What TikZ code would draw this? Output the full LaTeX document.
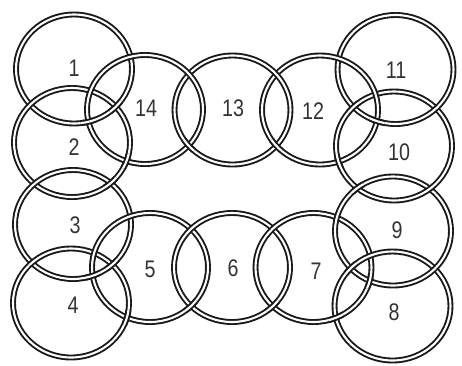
\documentclass[tikz,border=0pt]{standalone}
\usepackage{fontspec}
\setmainfont{Liberation Sans}
\newfontfamily\lab[FakeStretch=0.82]{Liberation Sans}
\usetikzlibrary{intersections}
\begin{document}
\begin{tikzpicture}[x=1pt,y=-1pt,
  ringline/.style={draw=black!90, line width=1.9pt, double=white, double distance=2.1pt},
  num/.style={font=\lab\fontsize{24}{24}\selectfont, inner sep=0pt, text=black!80}]
\useasboundingbox[fill=white] (0,0) rectangle (462,365);
% ring centres
\coordinate (c1) at (74,69);
\coordinate (c2) at (72,142.5);
\coordinate (c3) at (73,224.5);
\coordinate (c4) at (71,303);
\coordinate (c5) at (150,267.5);
\coordinate (c6) at (232,267.5);
\coordinate (c7) at (313.5,267.5);
\coordinate (c8) at (392.5,306);
\coordinate (c9) at (393,231);
\coordinate (c10) at (394,146);
\coordinate (c11) at (395.5,69.5);
\coordinate (c12) at (320,110);
\coordinate (c13) at (232.5,110);
\coordinate (c14) at (145,109.5);
\path[name path=r1] (c1) ellipse [x radius=58, y radius=54.5];
\path[name path=r2] (c2) ellipse [x radius=58, y radius=54.5];
\path[name path=r3] (c3) ellipse [x radius=58, y radius=54.5];
\path[name path=r4] (c4) ellipse [x radius=58, y radius=54.5];
\path[name path=r5] (c5) ellipse [x radius=58, y radius=54.5];
\path[name path=r6] (c6) ellipse [x radius=58, y radius=54.5];
\path[name path=r7] (c7) ellipse [x radius=58, y radius=54.5];
\path[name path=r8] (c8) ellipse [x radius=58, y radius=54.5];
\path[name path=r9] (c9) ellipse [x radius=58, y radius=54.5];
\path[name path=r10] (c10) ellipse [x radius=58, y radius=54.5];
\path[name path=r11] (c11) ellipse [x radius=58, y radius=54.5];
\path[name path=r12] (c12) ellipse [x radius=58, y radius=54.5];
\path[name path=r13] (c13) ellipse [x radius=58, y radius=54.5];
\path[name path=r14] (c14) ellipse [x radius=58, y radius=54.5];
% crossings
\path[name intersections={of=r1 and r2, name=xa}];
\path[name intersections={of=r2 and r3, name=xb}];
\path[name intersections={of=r3 and r4, name=xc}];
\path[name intersections={of=r4 and r5, name=xd}];
\path[name intersections={of=r3 and r5, name=xe}];
\path[name intersections={of=r5 and r6, name=xf}];
\path[name intersections={of=r6 and r7, name=xg}];
\path[name intersections={of=r7 and r8, name=xh}];
\path[name intersections={of=r7 and r9, name=xi}];
\path[name intersections={of=r8 and r9, name=xj}];
\path[name intersections={of=r9 and r10, name=xk}];
\path[name intersections={of=r10 and r11, name=xl}];
\path[name intersections={of=r10 and r12, name=xm}];
\path[name intersections={of=r11 and r12, name=xn}];
\path[name intersections={of=r12 and r13, name=xo}];
\path[name intersections={of=r13 and r14, name=xp}];
\path[name intersections={of=r1 and r14, name=xq}];
\path[name intersections={of=r2 and r14, name=xr}];
% rings
\foreach \n in {1,...,14}{
  \draw[ringline] (c\n) ellipse [x radius=58, y radius=54.5];
}
% interlocking: earlier ring passes over the later one at one crossing
\foreach \p/\q in {xa/1, xb/2, xc/3, xd/4, xe/3, xf/5, xg/6, xh/7, xi/7,
  xj/8, xk/9, xl/10, xm/10, xn/11, xo/12, xp/13, xq/1, xr/2}{
  \begin{scope}
    \clip (\p-1) circle (8);
    \draw[ringline] (c\q) ellipse [x radius=58, y radius=54.5];
  \end{scope}
}
% labels
\node[num] (l1) at (74,68) {1};
\node[num] (l2) at (74,147) {2};
\node[num] (l3) at (75,225) {3};
\node[num] (l4) at (73,305) {4};
\node[num] (l5) at (150,269) {5};
\node[num] (l6) at (233,268) {6};
\node[num] (l7) at (316,271) {7};
\node[num] (l8) at (394,312) {8};
\node[num] (l9) at (397,230) {9};
\node[num] (l10) at (399,152) {10};
\node[num] (l11) at (396,70) {11};
\node[num] (l12) at (313,111) {12};
\node[num] (l13) at (233,108) {13};
\node[num] (l14) at (146,108) {14};
\end{tikzpicture}
\end{document}
